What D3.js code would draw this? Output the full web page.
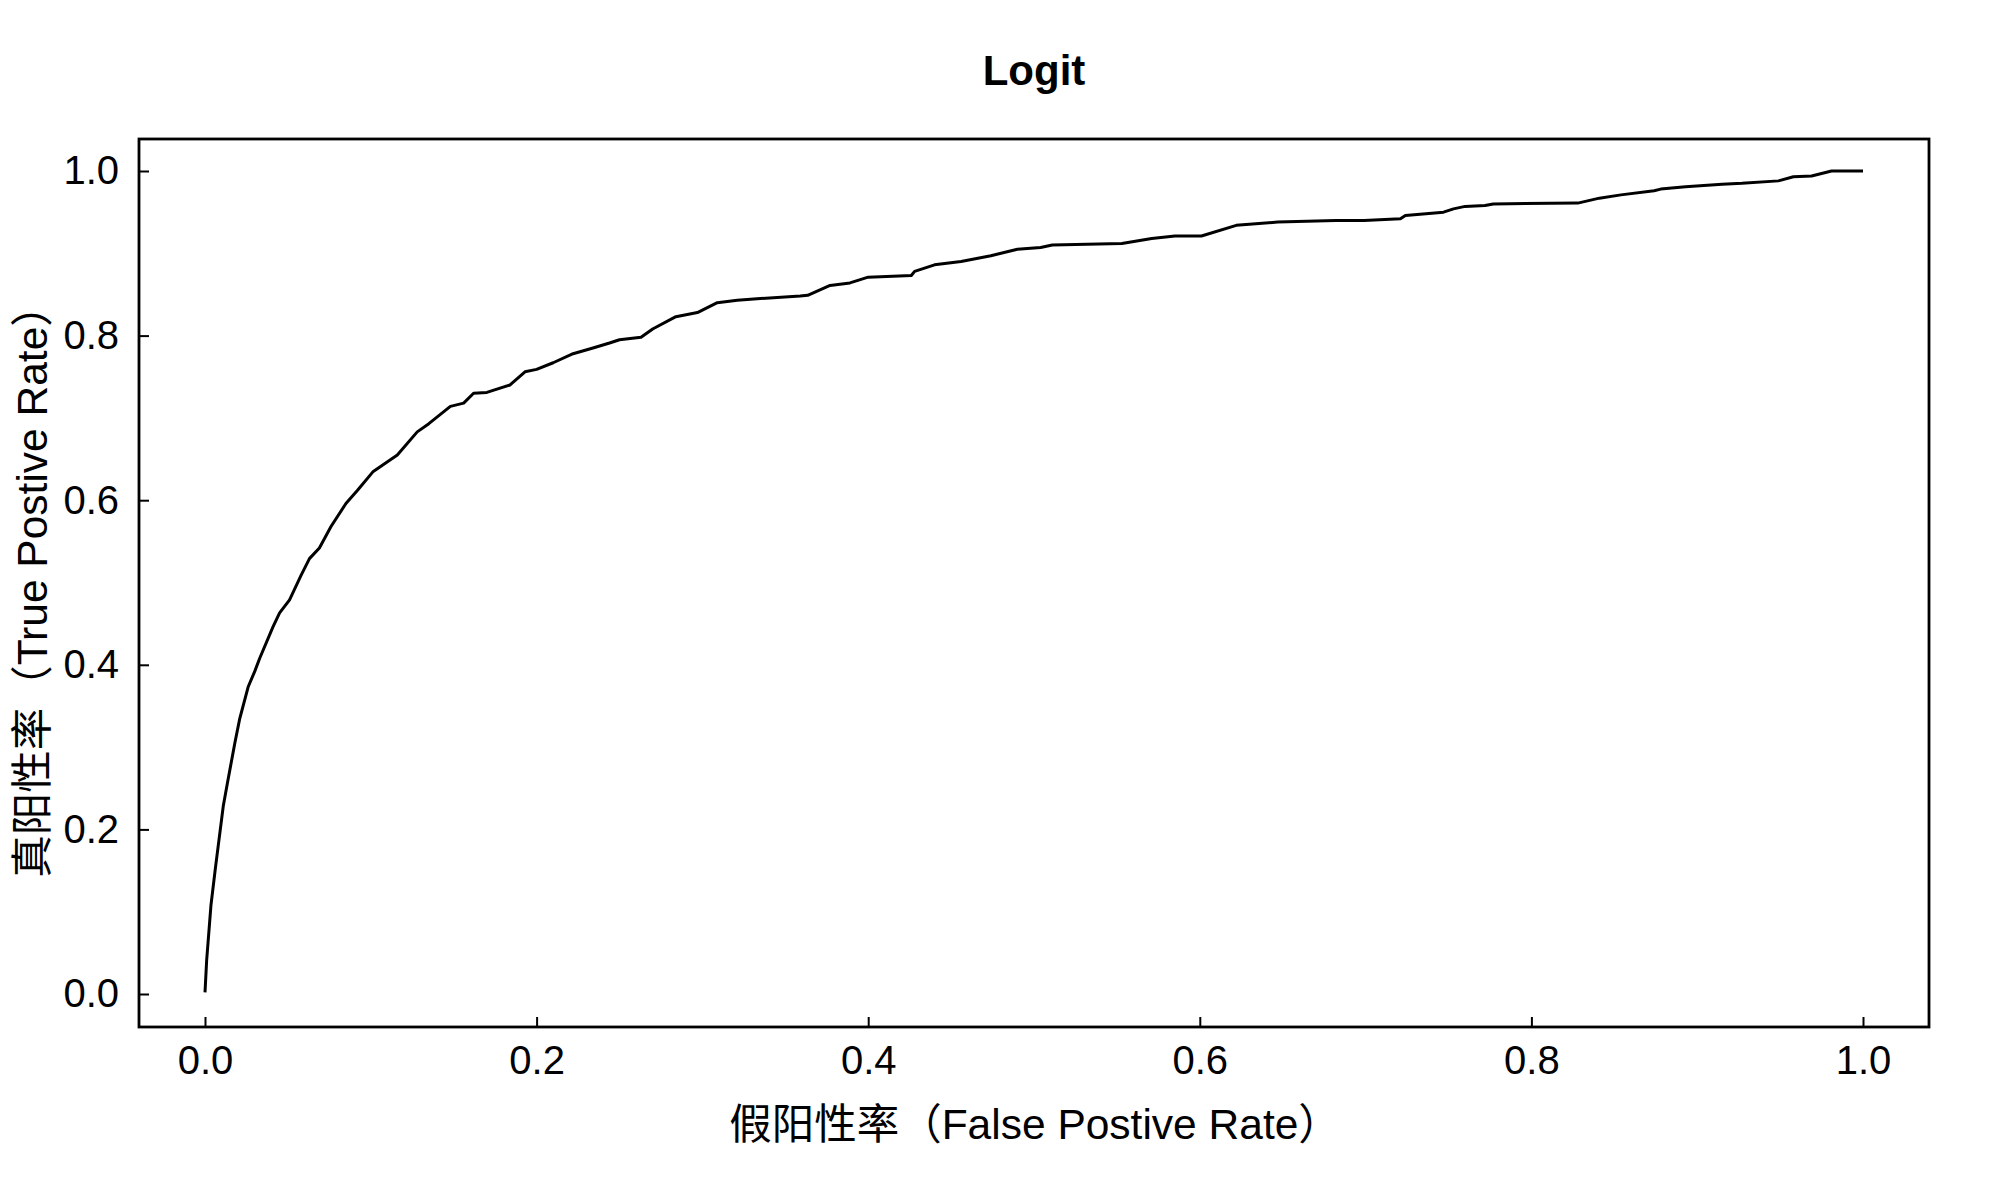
<!DOCTYPE html>
<html>
<head>
<meta charset="utf-8">
<script src="https://cdn.jsdelivr.net/npm/d3@7"></script>
<style>
  html, body { margin: 0; padding: 0; background: #fff; }
  svg { display: block; }
  text { font-family: "Liberation Sans", Arial, "Noto Sans CJK SC", sans-serif; fill: #000; }
</style>
</head>
<body>
<script>
// ---- Data ----
const titleText = "Logit";
const xLabel = "假阳性率（False Postive Rate）";
const yLabel = "真阳性率（True Postive Rate）";
const xTicks = [0.0, 0.2, 0.4, 0.6, 0.8, 1.0];
const yTicks = [0.0, 0.2, 0.4, 0.6, 0.8, 1.0];

const fpr = [0.000, 0.001, 0.0036, 0.0064, 0.011, 0.0135, 0.018, 0.021, 0.026, 0.030,
  0.033, 0.041, 0.045, 0.051, 0.058, 0.063, 0.069, 0.076, 0.085, 0.092,
  0.1015, 0.116, 0.128, 0.135, 0.148, 0.156, 0.162, 0.170, 0.184, 0.193,
  0.200, 0.210, 0.222, 0.234, 0.244, 0.250, 0.263, 0.270, 0.284, 0.297,
  0.309, 0.321, 0.335, 0.359, 0.3635, 0.377, 0.389, 0.400, 0.426, 0.428,
  0.440, 0.456, 0.474, 0.490, 0.504, 0.511, 0.553, 0.571, 0.585, 0.601,
  0.622, 0.647, 0.682, 0.699, 0.721, 0.724, 0.747, 0.753, 0.760, 0.772,
  0.777, 0.828, 0.841, 0.854, 0.874, 0.878, 0.893, 0.915, 0.927, 0.949,
  0.958, 0.969, 0.981, 1.000];
const tpr = [0.002, 0.041, 0.108, 0.155, 0.228, 0.256, 0.305, 0.335, 0.373, 0.392,
  0.408, 0.446, 0.463, 0.479, 0.509, 0.529, 0.542, 0.568, 0.596, 0.612,
  0.635, 0.655, 0.683, 0.693, 0.714, 0.718, 0.730, 0.731, 0.740, 0.756,
  0.759, 0.767, 0.778, 0.785, 0.791, 0.795, 0.798, 0.808, 0.823, 0.828,
  0.840, 0.843, 0.845, 0.848, 0.849, 0.861, 0.864, 0.871, 0.873, 0.878,
  0.886, 0.890, 0.897, 0.905, 0.907, 0.910, 0.912, 0.918, 0.921, 0.921,
  0.934, 0.938, 0.940, 0.940, 0.942, 0.946, 0.950, 0.954, 0.957, 0.958,
  0.960, 0.961, 0.967, 0.971, 0.976, 0.978, 0.981, 0.984, 0.985, 0.988,
  0.993, 0.994, 1.000, 1.000];

// ---- Layout ----
const W = 2000, H = 1200;
const box = { left: 139, right: 1929, top: 139, bottom: 1027 };

const svg = d3.select("body").append("svg")
  .attr("width", W).attr("height", H)
  .style("background", "#fff");

const x = d3.scaleLinear().domain([0, 1]).range([205, 1863]);
const y = d3.scaleLinear().domain([0, 1]).range([994, 171]);

// Axes (ticks pointing inward)
const xAxis = d3.axisBottom(x).tickValues(xTicks).tickFormat(d3.format(".1f"))
  .tickSizeInner(-10).tickSizeOuter(0).tickPadding(19);
const yAxis = d3.axisLeft(y).tickValues(yTicks).tickFormat(d3.format(".1f"))
  .tickSizeInner(-10).tickSizeOuter(0).tickPadding(20);

const gx = svg.append("g").attr("transform", `translate(0,${box.bottom})`).call(xAxis);
const gy = svg.append("g").attr("transform", `translate(${box.left},0)`).call(yAxis);
[gx, gy].forEach(g => {
  g.select(".domain").remove();
  g.selectAll(".tick line").attr("stroke", "#000").attr("stroke-width", 2);
  g.selectAll(".tick text")
    .style("font-family", '"Liberation Sans", Arial, sans-serif')
    .style("font-size", "40px").attr("fill", "#000");
});

// Curve
const pts = fpr.map((f, i) => [f, tpr[i]]);
svg.append("path")
  .datum(pts)
  .attr("fill", "none")
  .attr("stroke", "#000")
  .attr("stroke-width", 3)
  .attr("stroke-linejoin", "round")
  .attr("d", d3.line().x(d => x(d[0])).y(d => y(d[1])));

// Frame
svg.append("rect")
  .attr("x", box.left).attr("y", box.top)
  .attr("width", box.right - box.left).attr("height", box.bottom - box.top)
  .attr("fill", "none").attr("stroke", "#000").attr("stroke-width", 2.8);

// Title
svg.append("text")
  .attr("x", (box.left + box.right) / 2).attr("y", 85)
  .attr("text-anchor", "middle")
  .style("font-size", "42px").style("font-weight", "bold")
  .text(titleText);

// X label
svg.append("text")
  .attr("x", 1035).attr("y", 1139)
  .attr("text-anchor", "middle")
  .style("font-size", "42.5px")
  .text(xLabel);

// Y label
svg.append("text")
  .attr("transform", `translate(47,${581}) rotate(-90)`)
  .attr("text-anchor", "middle")
  .style("font-size", "42.5px")
  .text(yLabel);
</script>
</body>
</html>
